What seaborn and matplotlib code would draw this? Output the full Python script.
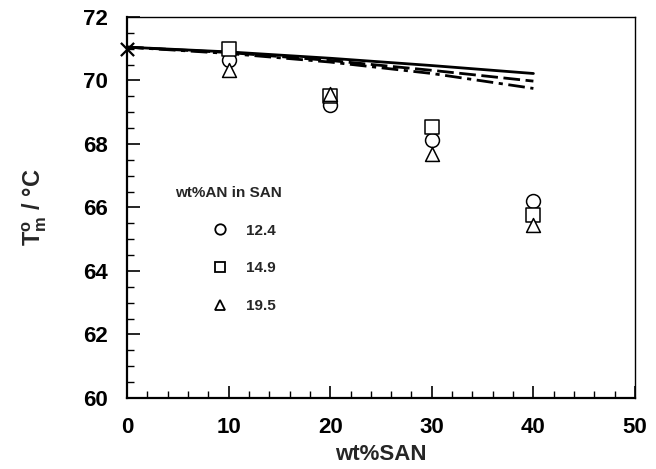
import matplotlib
matplotlib.use("Agg")
import matplotlib.pyplot as plt
import seaborn as sns
import pandas as pd
from matplotlib.ticker import MultipleLocator
from matplotlib.lines import Line2D

# ---- data ----
wt_san = [10, 20, 30, 40]
an_124 = [70.65, 69.22, 68.12, 66.22]
an_149 = [71.0, 69.52, 68.55, 65.75]
an_195 = [70.32, 69.58, 67.7, 65.45]
an_labels = ["12.4", "14.9", "19.5"]

line_x = [0, 10, 20, 30, 40]
line_solid = [71.05, 70.9, 70.7, 70.47, 70.22]
line_dash = [71.05, 70.88, 70.63, 70.32, 69.98]
line_dashdot = [71.05, 70.85, 70.58, 70.22, 69.75]

pure_x = [0]
pure_y = [71.0]

x_ticks = [0, 10, 20, 30, 40, 50]
y_ticks = [60, 62, 64, 66, 68, 70, 72]

sns.set_theme(style="white")
plt.rcParams['font.family'] = ['Liberation Sans', 'DejaVu Sans']
plt.rcParams['mathtext.fontset'] = 'custom'
plt.rcParams['mathtext.rm'] = 'Liberation Sans:bold'
plt.rcParams['mathtext.bf'] = 'Liberation Sans:bold'
plt.rcParams['mathtext.it'] = 'Liberation Sans:bold'

fig = plt.figure(figsize=(6.56, 4.69), dpi=100)
ax = fig.add_axes([0.1936, 0.1514, 0.7744, 0.8124])

lines_df = pd.DataFrame({"x": line_x * 3,
                         "y": line_solid + line_dash + line_dashdot,
                         "kind": ["solid"] * 5 + ["dash"] * 5 + ["dashdot"] * 5})
styles = {"solid": "-", "dash": (0, (6, 2)), "dashdot": (0, (6, 2, 1.5, 2))}
for kind, grp in lines_df.groupby("kind", sort=False):
    sns.lineplot(data=grp, x="x", y="y", ax=ax, color="black", lw=2.0,
                 linestyle=styles[kind], legend=False)

pts = pd.DataFrame({"x": wt_san * 3,
                    "y": an_124 + an_149 + an_195,
                    "an": [an_labels[0]] * 4 + [an_labels[1]] * 4 + [an_labels[2]] * 4})
markers = {an_labels[0]: "o", an_labels[1]: "s", an_labels[2]: "^"}
for lab, grp in pts.groupby("an", sort=False):
    sns.scatterplot(data=grp, x="x", y="y", ax=ax, marker=markers[lab], s=100,
                    facecolor="white", edgecolor="black", linewidth=1.1,
                    legend=False, zorder=5)

sns.scatterplot(x=pure_x, y=pure_y, ax=ax, marker="x", s=90, color="black",
                linewidth=1.6, legend=False, zorder=6, clip_on=False)

ax.set_xlim(0, 50)
ax.set_ylim(60, 72)
ax.set_xticks(x_ticks)
ax.set_yticks(y_ticks)
ax.xaxis.set_minor_locator(MultipleLocator(2))
ax.yaxis.set_minor_locator(MultipleLocator(0.5))
ax.tick_params(axis="both", which="both", bottom=True, left=True, top=False,
               right=False, direction="in", colors="black")
ax.tick_params(axis="both", which="major", length=9, width=1.2,
               labelsize=16)
ax.tick_params(axis="x", which="major", pad=14)
ax.tick_params(axis="y", which="major", pad=14)
ax.tick_params(axis="both", which="minor", length=5, width=1.0)
for lbl in ax.get_xticklabels() + ax.get_yticklabels():
    lbl.set_fontweight("bold")

for side in ["left", "bottom"]:
    ax.spines[side].set_linewidth(1.6)
    ax.spines[side].set_color("black")
for side in ["top", "right"]:
    ax.spines[side].set_linewidth(1.0)
    ax.spines[side].set_color("black")

ax.set_xlabel("wt%SAN", fontsize=16, fontweight="bold", labelpad=4)
ax.set_ylabel(r"$\mathbf{T^{o}_{m}}$ / °C", fontsize=17, fontweight="bold",
              labelpad=24)

ax.text(0.095, 0.537, "wt%AN in SAN", transform=ax.transAxes, fontsize=11,
        fontweight="bold", va="center", ha="left")
handles = [Line2D([], [], marker=markers[l], linestyle="none", markersize=7.5,
                  markerfacecolor="white", markeredgecolor="black",
                  markeredgewidth=1.3) for l in an_labels]
leg = ax.legend(handles, an_labels, loc="upper left",
                bbox_to_anchor=(0.153, 0.478), frameon=False,
                prop={"weight": "bold", "size": 11}, handlelength=1.0,
                handletextpad=1.2, labelspacing=1.55, borderpad=0)

fig.savefig("out.png", dpi=100)
